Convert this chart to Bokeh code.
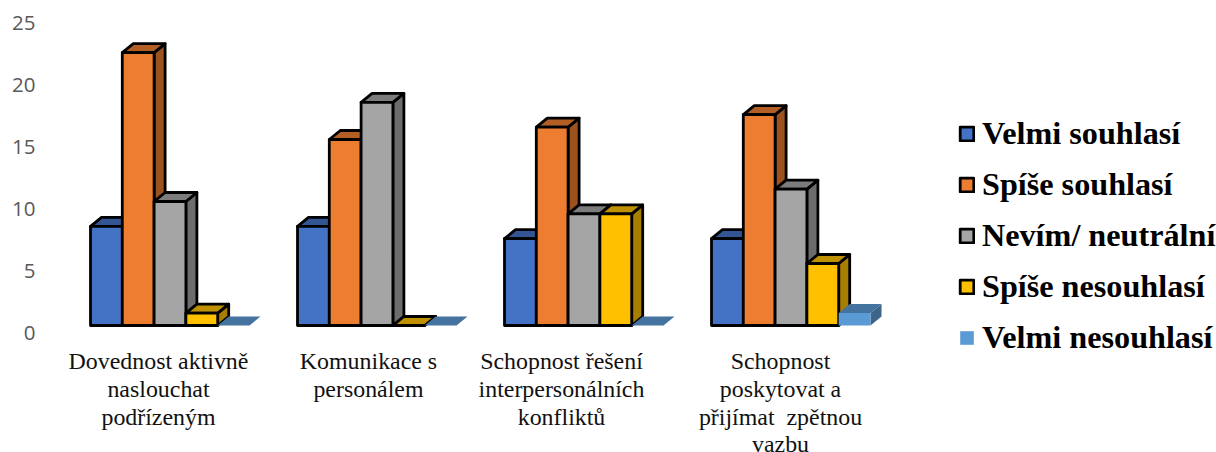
from bokeh.plotting import figure
from bokeh.models import Range1d, LinearAxis, FixedTicker, Legend, LegendItem
from bokeh.core.properties import value
from bokeh.embed import file_html
from bokeh.resources import INLINE

categories = ["Dovednost aktivně\nnaslouchat\npodřízeným",
              "Komunikace s\npersonálem",
              "Schopnost řešení\ninterpersonálních\nkonfliktů",
              "Schopnost\nposkytovat a\npřijímat \u00a0zpětnou\nvazbu"]
series_names = ["Velmi souhlasí", "Spíše souhlasí", "Nevím/ neutrální", "Spíše nesouhlasí", "Velmi nesouhlasí"]
velmi_souhlasi = [8, 8, 7, 7]
spise_souhlasi = [22, 15, 16, 17]
nevim = [10, 18, 9, 11]
spise_nesouhlasi = [1, 0, 9, 5]
velmi_nesouhlasi = [0, 0, 0, 1]
y_ticks = [0, 5, 10, 15, 20, 25]

series = [velmi_souhlasi, spise_souhlasi, nevim, spise_nesouhlasi, velmi_nesouhlasi]
front = ["#4472C4", "#ED7D31", "#A5A5A5", "#FFC000", "#5B9BD5"]
top = ["#335593", "#B25E25", "#7C7C7C", "#BF9000", "#44739F"]
side = ["#2A4A86", "#9C521F", "#6C6C6C", "#A87E00", "#3C6589"]
line = ["black", "black", "black", "black", None]

# pixel geometry of the picture
PX_X = 207.0      # px per category
PX_Y = 12.4       # px per unit
BAR = 31.8 / PX_X
DX = 11 / PX_X
DY = 9 / PX_Y
W, H = 1216, 452
LEFT = 40
x0 = 90 - LEFT       # frame px of category 0
y0 = 325             # frame px of value 0
label_px = [158, 368, 561, 780]

x_range = Range1d(-x0 / PX_X, (W - LEFT - x0) / PX_X)
y_range = Range1d(-(H - y0) / PX_Y, y0 / PX_Y)
p = figure(width=W, height=H, x_range=x_range, y_range=y_range, output_backend="svg",
           toolbar_location=None, min_border_left=LEFT, min_border_right=0, min_border_top=0,
           min_border_bottom=0, x_axis_type=None, y_axis_type=None, outline_line_color=None)
p.grid.visible = False

# value axis: its labels sit 7 px below the bars' base
AX = 7 / PX_Y
p.extra_y_ranges["axis"] = Range1d(y_range.start + AX, y_range.end + AX)
yaxis = LinearAxis(y_range_name="axis", ticker=FixedTicker(ticks=y_ticks), axis_line_color=None,
                   major_tick_line_color=None, minor_tick_line_color=None, major_tick_out=0,
                   major_label_text_font="Open Sans", major_label_text_font_size="20.5px",
                   major_label_text_color="#595959", major_label_standoff=5)
p.add_layout(yaxis, "left")

items = []
for s, (vals, name) in enumerate(zip(series, series_names)):
    lefts = [i + s * BAR for i in range(len(vals))]
    rights = [l + BAR for l in lefts]
    top_xs = [[l, r, r + DX, l + DX] for l, r in zip(lefts, rights)]
    top_ys = [[v, v, v + DY, v + DY] for v in vals]
    side_xs = [[r, r + DX, r + DX, r] for r in rights]
    side_ys = [[0, DY, v + DY, v] for v in vals]
    kw = dict(line_color=line[s], line_width=2.8, line_join="round")
    p.patches(side_xs, side_ys, fill_color=side[s], **kw)
    p.patches(top_xs, top_ys, fill_color=top[s], **kw)
    r = p.quad(left=lefts, right=rights, bottom=[0] * len(vals), top=vals, fill_color=front[s], **kw)
    items.append(LegendItem(label=name, renderers=[r]))

# category labels
tx = [(px - 90) / PX_X for px in label_px]
p.text(x=tx, y=[-22.5 / PX_Y] * 4, text=categories, text_font=value("Liberation Serif"), text_font_size="23.9px",
       text_color="#111111", text_align="center", text_baseline="top", text_line_height=1.07)

legend = Legend(items=items, location=(958 - LEFT, H - 356), orientation="vertical",
                label_text_font="Liberation Serif", label_text_font_style="bold",
                label_text_font_size="32.2px", label_text_color="#000000",
                glyph_width=17, glyph_height=17, label_standoff=7, spacing=14, padding=0, margin=0,
                border_line_color=None, background_fill_alpha=0)
p.add_layout(legend, "center")

open("out.html", "w").write(file_html(p, INLINE))
